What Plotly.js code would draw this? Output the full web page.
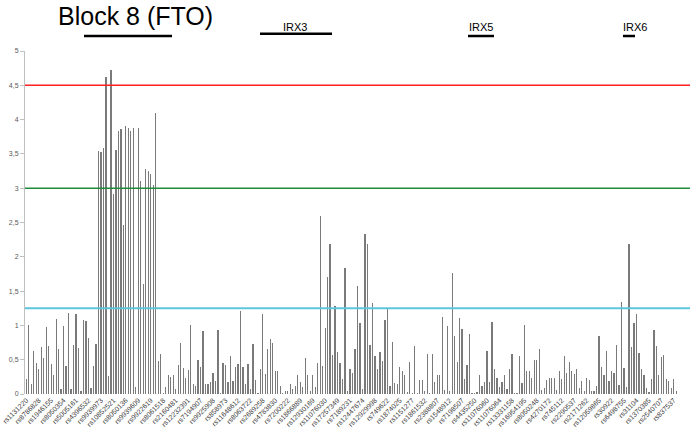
<!DOCTYPE html>
<html>
<head>
<meta charset="utf-8">
<script src="https://cdn.plot.ly/plotly-3.0.1.min.js"></script>
<style>html,body{margin:0;padding:0;background:#fff;}#chart{width:693px;height:432px;}</style>
</head>
<body>
<div id="chart"></div>
<script>
// -log10(p) values per SNP, in order along the region
const values = [
0.22,1.00,0.15,0.63,0.45,0.37,0.68,0.52,0.98,0.70,
0.44,0.27,1.09,0.66,0.08,0.99,0.41,1.18,0.07,0.72,
1.17,0.67,0.04,1.08,1.06,0.82,0.09,0.41,0.73,3.54,
3.53,3.58,4.62,0.26,4.72,2.92,3.55,3.83,3.86,2.47,
3.90,3.88,3.84,3.88,0.10,3.88,3.10,1.60,3.28,3.25,
3.21,3.04,4.10,0.48,0.58,0.01,0.10,0.28,0.25,0.27,
0.07,0.43,0.75,0.38,0.24,0.35,1.00,0.15,0.11,0.49,
0.39,0.92,0.15,0.15,0.17,0.31,0.19,0.94,0.02,0.45,
0.42,0.17,0.56,0.19,0.39,0.44,1.21,0.40,0.14,0.44,
0.08,0.73,0.20,0.02,0.36,1.16,0.29,0.66,0.80,0.75,
0.33,0.34,0.11,0.02,0.05,0.05,0.14,0.07,0.11,0.27,
0.17,0.10,0.52,0.27,0.04,0.27,0.10,0.45,2.60,0.41,
0.96,1.70,2.19,0.57,1.29,0.61,0.45,0.22,1.83,0.05,
0.37,0.30,0.65,1.57,1.04,0.07,2.33,2.18,0.72,1.32,
0.55,0.37,0.61,0.48,1.08,1.26,0.12,0.76,0.16,0.14,
0.39,0.33,0.28,0.03,0.47,0.01,0.70,0.01,0.21,0.20,
0.05,0.59,0.01,0.59,0.18,0.28,0.27,1.12,0.06,0.99,
0.04,1.76,0.84,0.46,1.11,0.95,0.22,0.42,0.87,0.01,
0.01,0.03,0.28,0.12,0.18,0.63,0.17,1.05,0.37,0.24,
0.10,0.17,0.27,0.07,0.37,0.58,0.01,0.01,0.55,0.16,
1.00,0.34,0.34,0.24,0.50,0.50,0.66,0.06,0.09,0.21,
0.23,0.23,0.23,0.06,0.33,0.22,0.56,0.30,0.47,0.33,
0.29,0.36,0.09,0.19,0.05,0.23,0.21,0.05,0.05,0.11,
0.84,0.40,0.28,0.63,0.19,0.33,0.31,0.72,0.13,1.34,
0.38,0.10,2.18,0.69,1.03,1.16,0.60,0.37,0.27,0.09,
0.03,0.22,0.94,0.70,0.27,0.54,0.57,0.22,0.19,0.09,
0.22,0.04
];
// tick labels (every 5th SNP)
const tickLabels = [
"rs1131220","rs8786828","rs1946155","rs8050354","rs5005161","rs4396532","rs9939973",
"rs10852521","rs8050136","rs9939609","rs9922619","rs8061518","rs2160481","rs12232391",
"rs7194907","rs9925908","rs858973","rs11648612","rs8063722","rs2689258","rs4783830",
"rs7200222","rs1866889","rs12930169","rs11076030","rs17257349","rs7189231","rs12447674",
"rs12929998","rs749622","rs1874025","rs1151277","rs1861532","rs2388807","rs1548912",
"rs7198507","rs4435250","rs11076060","rs11076064","rs13331158","rs16954195","rs8050248",
"rs4270172","rs745112","rs2290537","rs2171262","rs12059865","rs30922","rs6498755",
"rs31104","rs1370385","rs2540707","rs837537"
];
const thresholds = [4.5, 3, 1.25];
const geneNames = ["Block 8 (FTO)", "IRX3", "IRX5", "IRX6"];

const xIdx = values.map((v, i) => i);
const tickVals = tickLabels.map((t, k) => k * 5);

const trace = {
  type: 'bar', x: xIdx, y: values,
  width: 0.5,
  marker: {color: '#7a7a7a', line: {width: 0}},
  hoverinfo: 'x+y'
};

const thrColors = ['#ff2020', '#1e8c3a', '#5cc6de'];
const thrWidths = [1.5, 1.5, 2];
const shapes = thresholds.map((t, k) => ({
  type: 'line', xref: 'paper', yref: 'y', x0: 0, x1: 1, y0: t, y1: t,
  line: {color: thrColors[k], width: thrWidths[k]}
}));
// gene span bars above plot (paper coords)
const spans = [[0.0887, 0.2211, 1.0437], [0.3534, 0.4617, 1.0504], [0.6662, 0.7053, 1.0437], [0.8992, 0.9173, 1.0437]];
const spanW = [2.5, 2.5, 2.5, 2.5];
spans.forEach((s, k) => shapes.push({
  type: 'line', xref: 'paper', yref: 'paper', x0: s[0], x1: s[1], y0: s[2], y1: s[2],
  line: {color: '#000', width: spanW[k]}
}));

const annPos = [[0.1669, 1.1019, 25], [0.406, 1.0699, 11], [0.6857, 1.0699, 11], [0.9173, 1.0699, 11]];
const annotations = geneNames.map((g, k) => ({
  text: g, xref: 'paper', yref: 'paper', x: annPos[k][0], y: annPos[k][1],
  xanchor: 'center', yanchor: 'middle', showarrow: false,
  font: {family: 'Liberation Sans, Arial, sans-serif', size: annPos[k][2], color: '#000'}
}));

const layout = {
  width: 693, height: 432,
  margin: {l: 25, r: 3, t: 51, b: 37.5, pad: 0},
  paper_bgcolor: '#fff', plot_bgcolor: '#fff',
  separators: ', ',
  showlegend: false,
  bargap: 0,
  font: {family: 'Liberation Sans, Arial, sans-serif'},
  xaxis: {
    range: [-0.5, 266.5], tickmode: 'array', tickvals: tickVals, ticktext: tickLabels,
    tickangle: -45, tickfont: {size: 7, color: '#404040'},
    showgrid: false, zeroline: false, showline: false, ticks: '', automargin: false
  },
  yaxis: {
    range: [0, 5], dtick: 0.5, tick0: 0,
    tickfont: {size: 7, color: '#595959'},
    showgrid: false, zeroline: false, showline: true, linecolor: '#c0c0c0', linewidth: 1,
    ticks: 'outside', ticklen: 4, tickcolor: '#c0c0c0', automargin: false
  },
  shapes: shapes,
  annotations: annotations
};

Plotly.newPlot('chart', [trace], layout, {staticPlot: true, displayModeBar: false});
</script>
</body>
</html>
